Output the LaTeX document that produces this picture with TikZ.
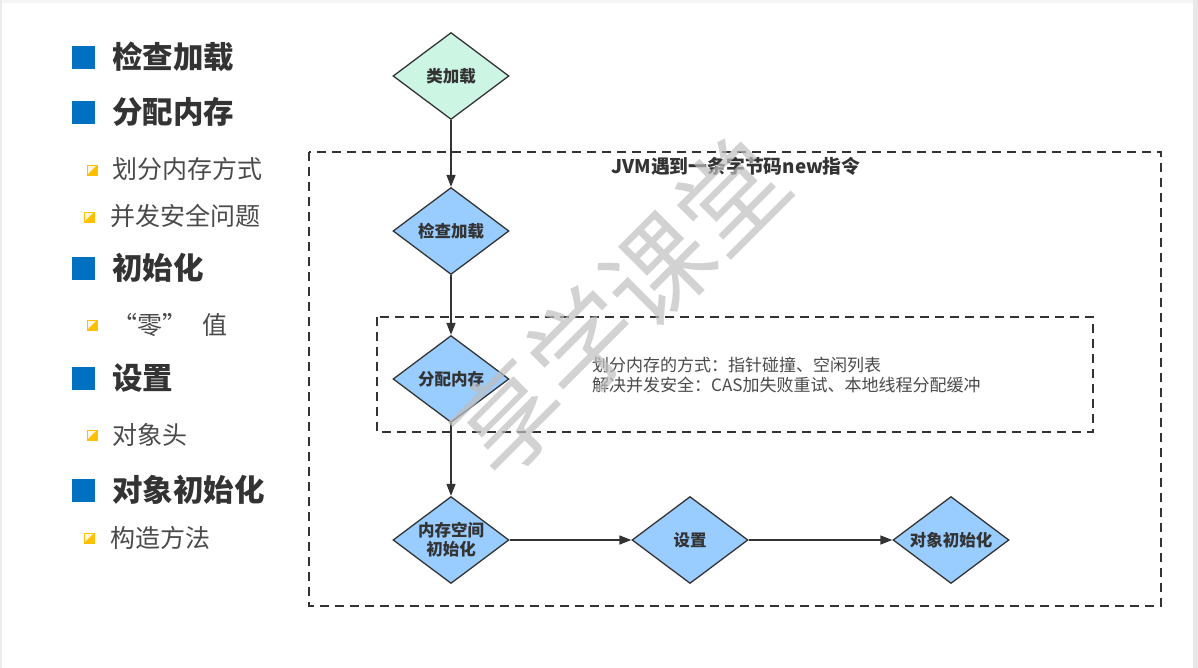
\documentclass[tikz,border=0pt]{standalone}
\usepackage{fontspec}
\setmainfont{Noto Sans CJK SC}
\usetikzlibrary{shapes.geometric,arrows.meta}

\definecolor{ink}{HTML}{333333}
\definecolor{softink}{HTML}{4A4A4A}
\definecolor{bulletblue}{HTML}{0070C0}
\definecolor{gold}{HTML}{FFC000}
\definecolor{stepblue}{HTML}{99CCFF}
\definecolor{mint}{HTML}{CCF5E4}

\tikzset{
  head/.style={anchor=west, inner sep=0pt, text=ink, font=\fontsize{30.5}{36}\selectfont\bfseries},
  sub/.style={anchor=west, inner sep=0pt, text=softink, font=\fontsize{25}{29}\selectfont},
  hbullet/.style={rectangle, inner sep=0pt, minimum size=23pt, fill=bulletblue},
  sbullet/.style={rectangle, inner sep=0pt, minimum size=10pt, draw=gold, line width=0.9pt,
    fill=gold!12,
    path picture={\fill[gold] (path picture bounding box.south west) --
      (path picture bounding box.south east) -- (path picture bounding box.north east) -- cycle;}},
  dia/.style={diamond, draw=ink, line width=1.3pt, fill=stepblue, inner sep=0pt,
    minimum width=116pt, minimum height=87pt},
  dlabel/.style={text=ink, align=center, inner sep=0pt,
    font=\fontsize{16.5}{19}\selectfont\bfseries},
  arr/.style={draw=ink, line width=1.4pt, -{Triangle[length=12pt,width=9pt]}},
  dbox/.style={draw=ink, line width=1.4pt, dash pattern=on 9pt off 6pt},
  note/.style={anchor=north west, align=left, inner sep=0pt, text=softink,
    font=\fontsize{17}{20}\selectfont},
}

\begin{document}
\begin{tikzpicture}[x=1pt,y=-1pt]
\useasboundingbox (0,0) rectangle (1198,668);
\fill[white] (0,0) rectangle (1198,668);
% page edges
\fill[gray!8] (0,0) rectangle (1198,3);
\fill[gray!15] (0,0) rectangle (2,668);
\fill[gray!18] (1193,0) rectangle (1198,668);

% ---- left outline list ----
\node[hbullet] (hb1) at (83.5,57.5) {};
\node[head] (h1) at (112,57) {检查加载};
\node[hbullet] (hb2) at (83.5,112.5) {};
\node[head] (h2) at (112,112) {分配内存};
\node[sbullet] (sb1) at (92,170) {};
\node[sub] (s1) at (112,169) {划分内存方式};
\node[sbullet] (sb2) at (89,217) {};
\node[sub] (s2) at (110,216) {并发安全问题};
\node[hbullet] (hb3) at (83.5,268.5) {};
\node[head] (h3) at (112,268) {初始化};
\node[sbullet] (sb3) at (92,325) {};
\node[sub] (s3) at (112,325) {“零”\hspace{0.6em}值};
\node[hbullet] (hb4) at (83.5,378.5) {};
\node[head] (h4) at (112,378) {设置};
\node[sbullet] (sb4) at (92,435) {};
\node[sub] (s4) at (112,435) {对象头};
\node[hbullet] (hb5) at (83.5,490.5) {};
\node[head] (h5) at (112,490) {对象初始化};
\node[sbullet] (sb5) at (89,538) {};
\node[sub] (s5) at (110,538) {构造方法};

% ---- dashed frames ----
\draw[dbox] (309,152) rectangle (1161,606);
\draw[dbox] (377,317) rectangle (1093,432);
\node[text=ink, inner sep=0pt, font=\fontsize{18.8}{22}\selectfont\bfseries] (title) at (736,166) {JVM遇到一条字节码new指令};
\node[note] (detail) at (592,357) {划分内存的方式：指针碰撞、空闲列表\\解决并发安全：CAS加失败重试、本地线程分配缓冲};

% ---- flow ----
\node[dia, fill=mint, label={[dlabel]center:类加载}] (load) at (451,76) {};
\node[dia, label={[dlabel]center:检查加载}] (check) at (451,231) {};
\node[dia, label={[dlabel]center:分配内存}] (alloc) at (451,379) {};
\node[dia, label={[dlabel]center:内存空间\\初始化}] (zero) at (451,540) {};
\node[dia, label={[dlabel]center:设置}] (setup) at (690,540) {};
\node[dia, label={[dlabel]center:对象初始化}] (init) at (951,540) {};

\draw[arr] (load) -- (check);
\draw[arr] (check) -- (alloc);
\draw[arr] (alloc) -- (zero);
\draw[arr] (zero) -- (setup);
\draw[arr] (setup) -- (init);

% ---- watermark ----
\node[rotate=45, text=gray!50, opacity=0.7, inner sep=0pt,
  font=\fontsize{105}{105}\selectfont] (mark) at (620,307) {享学课堂};
\end{tikzpicture}
\end{document}
